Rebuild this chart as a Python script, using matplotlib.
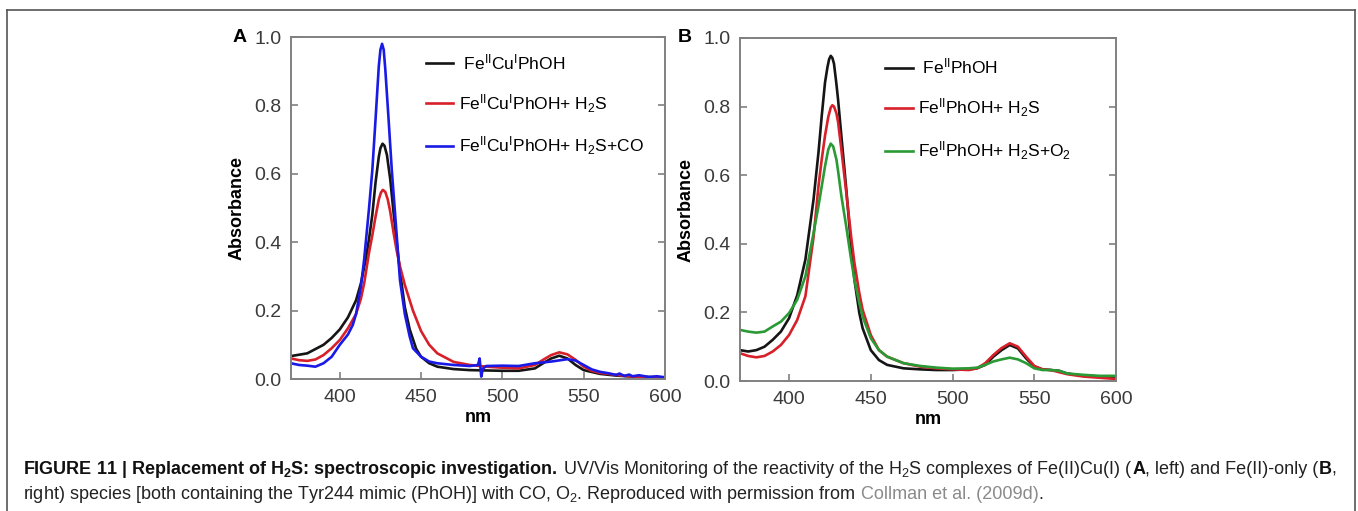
import matplotlib
matplotlib.use('Agg')
import matplotlib.pyplot as plt
from matplotlib.lines import Line2D

plt.rcParams['font.family'] = ['Liberation Sans', 'DejaVu Sans']
plt.rcParams['mathtext.fontset'] = 'custom'
plt.rcParams['mathtext.rm'] = 'Liberation Sans'
plt.rcParams['mathtext.it'] = 'Liberation Sans:italic'
plt.rcParams['mathtext.bf'] = 'Liberation Sans:bold'

# ---- Panel A data ----
a_black_x = [370, 380, 390, 395, 400, 405, 410, 413, 416, 418, 420, 422, 424, 425, 426.3, 427.5, 429, 431,
             433, 435, 437, 440, 443, 447, 450, 455, 460, 470, 480, 500, 510, 520, 525, 530, 535, 540, 545,
             550, 560, 570, 580, 600]
a_black_y = [0.067, 0.075, 0.10, 0.12, 0.145, 0.18, 0.23, 0.28, 0.35, 0.41, 0.48, 0.575, 0.65, 0.675, 0.688,
             0.682, 0.655, 0.585, 0.49, 0.40, 0.315, 0.21, 0.145, 0.088, 0.065, 0.046, 0.036, 0.029, 0.026,
             0.024, 0.024, 0.031, 0.046, 0.06, 0.068, 0.06, 0.041, 0.026, 0.015, 0.010, 0.007, 0.004]

a_red_x = [370, 375, 380, 385, 390, 395, 400, 405, 410, 413, 415, 418, 420, 422, 424, 425.3, 426.5, 428,
           429.5, 431, 433, 435, 437, 440, 445, 450, 455, 460, 470, 480, 490, 500, 510, 520, 525, 530, 535,
           540, 545, 550, 555, 560, 570, 580, 600]
a_red_y = [0.06, 0.055, 0.053, 0.057, 0.07, 0.09, 0.114, 0.148, 0.19, 0.235, 0.28, 0.37, 0.42, 0.475, 0.525,
           0.545, 0.553, 0.547, 0.525, 0.49, 0.43, 0.375, 0.33, 0.275, 0.20, 0.14, 0.10, 0.075, 0.05, 0.041,
           0.036, 0.033, 0.031, 0.041, 0.056, 0.07, 0.078, 0.072, 0.056, 0.036, 0.024, 0.018, 0.012, 0.007,
           0.004]

a_blue_x = [370, 375, 380, 385, 390, 395, 400, 405, 408, 410, 413, 415, 418, 420, 422, 424, 425, 426, 427,
            428, 430, 432, 435, 437, 440, 443, 445, 450, 455, 460, 470, 480, 485, 486, 487, 488, 490, 500,
            510, 520, 530, 540, 545, 550, 555, 560, 565, 570, 572, 575, 578, 580, 584, 590, 595, 600]
a_blue_y = [0.046, 0.041, 0.039, 0.036, 0.046, 0.065, 0.10, 0.13, 0.158, 0.19, 0.27, 0.35, 0.50, 0.61, 0.76,
            0.915, 0.963, 0.98, 0.963, 0.905, 0.76, 0.61, 0.42, 0.29, 0.19, 0.124, 0.09, 0.065, 0.051, 0.046,
            0.041, 0.038, 0.041, 0.06, 0.007, 0.03, 0.038, 0.039, 0.038, 0.046, 0.051, 0.058, 0.054, 0.041,
            0.028, 0.021, 0.017, 0.012, 0.016, 0.009, 0.013, 0.008, 0.011, 0.006, 0.008, 0.005]

# ---- Panel B data ----
b_black_x = [370, 375, 380, 385, 390, 395, 400, 405, 410, 415, 418, 420, 422, 423.5, 424.5, 425.5, 426.5,
             427.5, 429, 430, 432, 435, 438, 440, 443, 445, 450, 455, 460, 470, 480, 490, 500, 510, 515, 520,
             525, 530, 535, 540, 545, 550, 555, 560, 565, 570, 580, 600]
b_black_y = [0.09, 0.086, 0.09, 0.10, 0.12, 0.144, 0.183, 0.25, 0.354, 0.53, 0.666, 0.773, 0.87, 0.915, 0.938,
             0.948, 0.942, 0.925, 0.865, 0.82, 0.715, 0.56, 0.39, 0.295, 0.198, 0.154, 0.09, 0.061, 0.047,
             0.037, 0.034, 0.032, 0.032, 0.034, 0.037, 0.047, 0.071, 0.09, 0.105, 0.095, 0.066, 0.042, 0.034,
             0.032, 0.030, 0.022, 0.015, 0.011]

b_red_x = [370, 375, 380, 385, 390, 395, 400, 405, 410, 415, 418, 420, 422, 424, 425.5, 426.5, 427.5, 429,
           430, 432, 435, 438, 440, 443, 445, 450, 455, 460, 470, 480, 490, 500, 510, 515, 520, 525, 530, 535,
           540, 545, 550, 555, 560, 570, 580, 600]
b_red_y = [0.081, 0.073, 0.069, 0.073, 0.086, 0.105, 0.134, 0.178, 0.247, 0.42, 0.568, 0.646, 0.715, 0.77,
           0.797, 0.804, 0.8, 0.78, 0.755, 0.675, 0.55, 0.42, 0.344, 0.256, 0.208, 0.134, 0.09, 0.071, 0.052,
           0.042, 0.037, 0.034, 0.032, 0.037, 0.052, 0.076, 0.096, 0.11, 0.10, 0.071, 0.044, 0.034, 0.032,
           0.020, 0.013, 0.006]

b_green_x = [370, 375, 380, 385, 390, 395, 400, 405, 410, 415, 418, 420, 422, 424, 425.5, 427, 429, 430, 432,
             435, 438, 440, 443, 445, 450, 455, 460, 470, 480, 490, 500, 510, 515, 520, 525, 530, 535, 540,
             545, 550, 555, 560, 565, 570, 580, 590, 600]
b_green_y = [0.149, 0.144, 0.141, 0.144, 0.159, 0.173, 0.198, 0.237, 0.305, 0.432, 0.51, 0.568, 0.626, 0.675,
             0.692, 0.684, 0.645, 0.612, 0.54, 0.45, 0.354, 0.295, 0.227, 0.188, 0.125, 0.09, 0.071, 0.052,
             0.044, 0.039, 0.036, 0.037, 0.039, 0.047, 0.057, 0.063, 0.068, 0.063, 0.052, 0.037, 0.032, 0.032,
             0.030, 0.022, 0.018, 0.015, 0.015]

a_labels = [r' Fe$^{\rm II}$Cu$^{\rm I}$PhOH',
            r'Fe$^{\rm II}$Cu$^{\rm I}$PhOH+ H$_2$S',
            r'Fe$^{\rm II}$Cu$^{\rm I}$PhOH+ H$_2$S+CO']
b_labels = [r' Fe$^{\rm II}$PhOH',
            r'Fe$^{\rm II}$PhOH+ H$_2$S',
            r'Fe$^{\rm II}$PhOH+ H$_2$S+O$_2$']

x_ticks = [400, 450, 500, 550, 600]
y_ticks = [0.0, 0.2, 0.4, 0.6, 0.8, 1.0]

BLACK = '#151515'
RED = '#d8202a'
BLUE = '#1a1ae6'
GREEN = '#2a9a35'
TICK_COL = '#3a3a3a'
SPINE_COL = '#808080'
LW = 1.9

W, H = 1358, 511
fig = plt.figure(figsize=(W / 100, H / 100), dpi=100)

# outer frame of the figure panel (open at the bottom)
frame_kw = dict(transform=fig.transFigure, color='#555555', lw=1.2)
fig.add_artist(Line2D([7 / W, 7 / W], [0, 1 - 10 / H], **frame_kw))
fig.add_artist(Line2D([7 / W, 1355 / W], [1 - 10 / H, 1 - 10 / H], **frame_kw))
fig.add_artist(Line2D([1355 / W, 1355 / W], [0, 1 - 10 / H], **frame_kw))


def make_axes(left, right, top, bottom):
    ax = fig.add_axes([left / W, 1 - bottom / H, (right - left) / W, (bottom - top) / H])
    ax.set_xlim(370, 600)
    ax.set_ylim(0, 1.0)
    ax.set_xticks(x_ticks)
    ax.set_yticks(y_ticks)
    ax.set_xticklabels([str(v) for v in x_ticks])
    ax.set_yticklabels([f'{v:.1f}' for v in y_ticks])
    for s in ax.spines.values():
        s.set_color(SPINE_COL)
        s.set_linewidth(1.4)
    ax.tick_params(direction='in', length=5, width=1.2, color=SPINE_COL, labelsize=14,
                   labelcolor=TICK_COL, right=True, top=False, pad=7)
    ax.set_xlabel('nm', fontsize=13, fontweight='bold', labelpad=2)
    ax.set_ylabel('Absorbance', fontsize=13, fontweight='bold', labelpad=6)
    return ax


def add_legend(ax, anchor):
    ax.legend(loc='upper left', bbox_to_anchor=anchor, frameon=False, fontsize=12.5,
              handlelength=1.6, handletextpad=0.3, labelspacing=1.15, borderpad=0, borderaxespad=0)


axA = make_axes(291, 665, 37, 379)
axA.plot(a_black_x, a_black_y, color=BLACK, lw=LW, label=a_labels[0])
axA.plot(a_red_x, a_red_y, color=RED, lw=LW, label=a_labels[1])
axA.plot(a_blue_x, a_blue_y, color=BLUE, lw=LW, label=a_labels[2])
add_legend(axA, (0.36, 0.955))
fig.text(240 / W, 1 - 38 / H, 'A', fontsize=14, fontweight='bold', va='center', ha='center')

axB = make_axes(740, 1116, 38, 381)
axB.plot(b_black_x, b_black_y, color=BLACK, lw=LW, label=b_labels[0])
axB.plot(b_red_x, b_red_y, color=RED, lw=LW, label=b_labels[1])
axB.plot(b_green_x, b_green_y, color=GREEN, lw=LW, label=b_labels[2])
add_legend(axB, (0.385, 0.945))
fig.text(685 / W, 1 - 38 / H, 'B', fontsize=14, fontweight='bold', va='center', ha='center')

# caption, built piece by piece so bold / grey parts line up
cap1 = [(r'FIGURE 11 | Replacement of H$_\mathbf{2}$S: spectroscopic investigation.', 'bold', '#111111'),
        (r' UV/Vis Monitoring of the reactivity of the H$_2$S complexes of Fe(II)Cu(I) (', 'normal', '#222222'),
        ('A', 'bold', '#111111'),
        (', left) and Fe(II)-only (', 'normal', '#222222'),
        ('B', 'bold', '#111111'),
        (',', 'normal', '#222222')]
cap2 = [(r'right) species [both containing the Tyr244 mimic (PhOH)] with CO, O$_2$. '
         r'Reproduced with permission from', 'normal', '#222222'),
        (' Collman et al. (2009d)', 'normal', '#8a8a8a'),
        ('.', 'normal', '#222222')]

renderer = fig.canvas.get_renderer()
for pieces, base_y in [(cap1, 474), (cap2, 499)]:
    x = 23
    for txt, weight, col in pieces:
        t = fig.text(x / W, 1 - base_y / H, txt, fontsize=13, fontweight=weight, color=col,
                     va='baseline', ha='left')
        bb = t.get_window_extent(renderer=renderer)
        x = bb.x1

fig.savefig('out.png', dpi=100)
